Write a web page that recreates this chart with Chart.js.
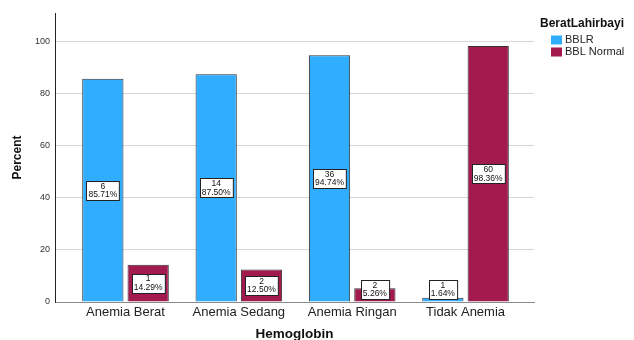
<!DOCTYPE html>
<html>
<head>
<meta charset="utf-8">
<script src="https://cdn.jsdelivr.net/npm/chart.js@4"></script>
<style>
  html, body { margin: 0; padding: 0; background: #fff; }
  #wrap { width: 634px; height: 340px; }
</style>
</head>
<body>
<div id="wrap"><canvas id="barChart" width="634" height="340"></canvas></div>
<script>
var categories = ["Anemia Berat", "Anemia Sedang", "Anemia Ringan", "Tidak Anemia"];
var seriesNames = ["BBLR", "BBL Normal"];
var bblrPct = [85.71, 87.50, 94.74, 1.64];
var normalPct = [14.29, 12.50, 5.26, 98.36];
var bblrCount = [6, 14, 36, 1];
var normalCount = [1, 2, 2, 60];
var yTicks = [0, 20, 40, 60, 80, 100];

var colors = ["#31adff", "#a21a4e"];
var FONT = "'Liberation Sans', Arial, sans-serif";

// count + percent box in the middle of every bar
var barLabels = {
    id: 'barLabels',
    afterDatasetsDraw: function(chart) {
        var ctx = chart.ctx;
        var counts = [bblrCount, normalCount];
        ctx.save();
        ctx.font = "8.5px " + FONT;
        chart.data.datasets.forEach(function(ds, di) {
            var meta = chart.getDatasetMeta(di);
            meta.data.forEach(function(bar, i) {
                var l1 = String(counts[di][i]);
                var l2 = ds.data[i].y.toFixed(2) + "%";
                var w = Math.max(ctx.measureText(l1).width, ctx.measureText(l2).width) + 4;
                var h = 19;
                var cy = Math.min((bar.y + bar.base) / 2, bar.base - 12);
                var bx = Math.round(bar.x - w / 2) + 0.5;
                var by = Math.round(cy - h / 2) + 0.5;
                ctx.fillStyle = "#fff";
                ctx.fillRect(bx, by, w, h);
                ctx.strokeStyle = "#222";
                ctx.lineWidth = 1;
                ctx.strokeRect(bx, by, w, h);
                ctx.fillStyle = "#111";
                ctx.textAlign = "center";
                ctx.textBaseline = "middle";
                ctx.fillText(l1, bar.x, cy - 4);
                ctx.fillText(l2, bar.x, cy + 4.5);
            });
        });
        ctx.restore();
    }
};

// SPSS style legend with title on the right
var sideLegend = {
    id: 'sideLegend',
    afterDraw: function(chart) {
        var ctx = chart.ctx;
        ctx.save();
        ctx.textBaseline = "middle";
        ctx.textAlign = "left";
        ctx.fillStyle = "#111";
        ctx.font = "bold 12px " + FONT;
        ctx.fillText("BeratLahirbayi", 540, 24);
        ctx.font = "11px " + FONT;
        seriesNames.forEach(function(name, i) {
            var y = 40 + i * 12;
            ctx.fillStyle = colors[i];
            ctx.fillRect(551, y - 4.5, 11, 9);
            ctx.fillStyle = "#222";
            ctx.fillText(name, 565, y);
        });
        ctx.restore();
    }
};

window.onload = function() {
    var ctx = document.getElementById("barChart").getContext('2d');
    var myChart = new Chart(ctx, {
        type: 'bar',
        data: {
            datasets: [
                {
                    label: seriesNames[0],
                    data: bblrPct.map(function(v, i) { return {x: i, y: v}; }),
                    backgroundColor: colors[0],
                    borderColor: "#333",
                    borderWidth: 1
                },
                {
                    label: seriesNames[1],
                    data: normalPct.map(function(v, i) { return {x: i, y: v}; }),
                    backgroundColor: colors[1],
                    borderColor: "#333",
                    borderWidth: 1
                }
            ]
        },
        options: {
            responsive: false,
            animation: false,
            categoryPercentage: 0.8,
            barPercentage: 0.91,
            layout: { padding: { top: 13, right: 100, left: 0, bottom: 0 } },
            plugins: {
                legend: { display: false },
                tooltip: { enabled: false }
            },
            scales: {
                x: {
                    type: 'linear',
                    offset: false,
                    min: -0.622,
                    max: 3.604,
                    afterBuildTicks: function(s) {
                        s.ticks = categories.map(function(c, i) { return {value: i}; });
                    },
                    afterFit: function(s) { s.height = 38; },
                    grid: { display: false, drawTicks: false },
                    border: { display: true, color: "#8a8a8a", width: 1 },
                    ticks: {
                        autoSkip: false,
                        maxRotation: 0,
                        padding: 3,
                        color: "#222",
                        font: { family: FONT, size: 13 },
                        callback: function(v) { return categories[v]; }
                    },
                    title: {
                        display: true,
                        text: "Hemoglobin",
                        color: "#111",
                        padding: 0,
                        font: { family: FONT, size: 13.5, weight: 'bold', lineHeight: 0.9 }
                    }
                },
                y: {
                    min: 0,
                    max: 111,
                    afterFit: function(s) { s.width = 55; },
                    afterBuildTicks: function(s) {
                        s.ticks = yTicks.map(function(v) { return {value: v}; });
                    },
                    grid: { color: "#d6d6d6", lineWidth: 1, drawTicks: false },
                    border: { display: true, color: "#222", width: 1 },
                    ticks: {
                        padding: 5,
                        color: "#333",
                        font: { family: FONT, size: 9 }
                    },
                    title: {
                        display: true,
                        text: "Percent",
                        color: "#111",
                        padding: { top: 10, bottom: 0 },
                        font: { family: FONT, size: 12, weight: 'bold' }
                    }
                }
            }
        },
        plugins: [barLabels, sideLegend]
    });
};
</script>
</body>
</html>
